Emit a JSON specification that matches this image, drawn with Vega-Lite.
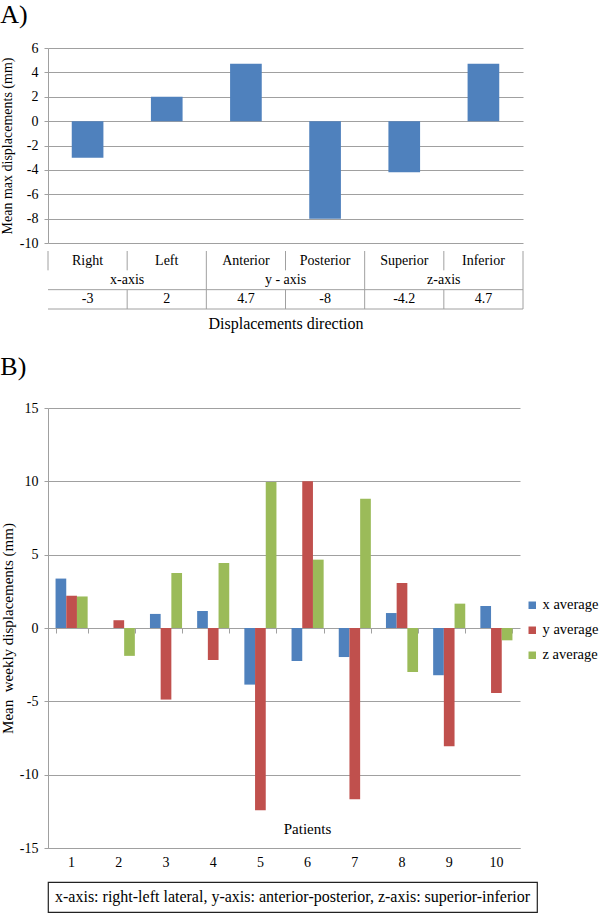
{
  "$schema": "https://vega.github.io/schema/vega-lite/v6.json",
  "padding": {"left": 0, "top": 2, "right": 0, "bottom": 0},
  "background": "white",
  "config": {
    "font": "Liberation Serif",
    "view": {"stroke": null},
    "locale": {"number": {"decimal": ".", "thousands": ",", "grouping": [3], "currency": ["$", ""], "minus": "-"}},
    "axis": {
      "labelFont": "Liberation Serif", "titleFont": "Liberation Serif",
      "labelColor": "black", "titleColor": "black", "titleFontWeight": "normal",
      "labelFontSize": 14, "titleFontSize": 14,
      "gridColor": "#a0a0a0", "domainColor": "#a0a0a0", "tickColor": "#a0a0a0"
    },
    "title": {"font": "Liberation Serif", "fontWeight": "normal", "fontSize": 26, "anchor": "start", "frame": "bounds", "color": "black", "baseline": "alphabetic"},
    "text": {"font": "Liberation Serif", "color": "black"}
  },
  "datasets": {
    "directions": [
      {"direction": "Right", "group": "x-axis", "value": -3},
      {"direction": "Left", "group": "x-axis", "value": 2},
      {"direction": "Anterior", "group": "y - axis", "value": 4.7},
      {"direction": "Posterior", "group": "y - axis", "value": -8},
      {"direction": "Superior", "group": "z-axis", "value": -4.2},
      {"direction": "Inferior", "group": "z-axis", "value": 4.7}
    ],
    "tableLines": [
      {"direction": "Right", "top": 0, "bottom": 1},
      {"direction": "Left", "top": 0, "bottom": 1},
      {"direction": "Left", "top": 2, "bottom": 3},
      {"direction": "Anterior", "top": 0, "bottom": 3},
      {"direction": "Posterior", "top": 0, "bottom": 1},
      {"direction": "Posterior", "top": 2, "bottom": 3},
      {"direction": "Superior", "top": 0, "bottom": 3},
      {"direction": "Inferior", "top": 0, "bottom": 1},
      {"direction": "Inferior", "top": 2, "bottom": 3}
    ],
    "weekly": [
      {"patient": 1, "series": "x average", "value": 3.37},
      {"patient": 1, "series": "y average", "value": 2.2},
      {"patient": 1, "series": "z average", "value": 2.15},
      {"patient": 2, "series": "x average", "value": 0},
      {"patient": 2, "series": "y average", "value": 0.53},
      {"patient": 2, "series": "z average", "value": -1.9},
      {"patient": 3, "series": "x average", "value": 0.96},
      {"patient": 3, "series": "y average", "value": -4.88},
      {"patient": 3, "series": "z average", "value": 3.75},
      {"patient": 4, "series": "x average", "value": 1.16},
      {"patient": 4, "series": "y average", "value": -2.18},
      {"patient": 4, "series": "z average", "value": 4.43},
      {"patient": 5, "series": "x average", "value": -3.86},
      {"patient": 5, "series": "y average", "value": -12.43},
      {"patient": 5, "series": "z average", "value": 9.95},
      {"patient": 6, "series": "x average", "value": -2.25},
      {"patient": 6, "series": "y average", "value": 10.0},
      {"patient": 6, "series": "z average", "value": 4.66},
      {"patient": 7, "series": "x average", "value": -1.98},
      {"patient": 7, "series": "y average", "value": -11.68},
      {"patient": 7, "series": "z average", "value": 8.82},
      {"patient": 8, "series": "x average", "value": 1.02},
      {"patient": 8, "series": "y average", "value": 3.07},
      {"patient": 8, "series": "z average", "value": -3.0},
      {"patient": 9, "series": "x average", "value": -3.22},
      {"patient": 9, "series": "y average", "value": -8.06},
      {"patient": 9, "series": "z average", "value": 1.66},
      {"patient": 10, "series": "x average", "value": 1.5},
      {"patient": 10, "series": "y average", "value": -4.43},
      {"patient": 10, "series": "z average", "value": -0.84}
    ]
  },
  "spacing": 23,
  "vconcat": [
    {
      "spacing": 0,
      "vconcat": [
        {
          "width": 475,
          "height": 195,
          "title": {"text": "A)", "offset": 13},
          "data": {"name": "directions"},
          "mark": {"type": "bar", "color": "#4F81BD"},
          "encoding": {
            "x": {"field": "direction", "type": "nominal", "sort": null,
                  "scale": {"domain": ["Right", "Left", "Anterior", "Posterior", "Superior", "Inferior"], "paddingInner": 0.6, "paddingOuter": 0.3},
                  "axis": null},
            "y": {"field": "value", "type": "quantitative",
                  "scale": {"domain": [-10, 6], "nice": false},
                  "axis": {"values": [-10, -8, -6, -4, -2, 0, 2, 4, 6], "title": "Mean max displacements (mm)",
                           "titlePadding": 5, "tickSize": 4, "labelPadding": 6, "grid": true}}
          }
        },
        {
          "width": 475,
          "height": 58,
          "layer": [
            {
              "data": {"name": "directions"},
              "mark": {"type": "text", "fontSize": 14},
              "encoding": {
                "x": {"field": "direction", "type": "nominal", "sort": null,
                      "scale": {"domain": ["Right", "Left", "Anterior", "Posterior", "Superior", "Inferior"], "paddingInner": 0, "paddingOuter": 0},
                      "axis": {"title": "Displacements direction", "labels": false, "ticks": false, "domain": false, "titleFontSize": 16, "titlePadding": 6}},
                "y": {"datum": 0.5, "type": "quantitative", "scale": {"domain": [0, 3], "reverse": true, "nice": false, "zero": false}, "axis": null},
                "text": {"field": "direction"}
              }
            },
            {
              "data": {"name": "directions"},
              "transform": [{"filter": {"field": "direction", "oneOf": ["Right", "Anterior", "Superior"]}}],
              "mark": {"type": "text", "fontSize": 14},
              "encoding": {
                "x": {"field": "direction", "type": "nominal", "bandPosition": 1,
                      "axis": {"title": "Displacements direction", "labels": false, "ticks": false, "domain": false, "titleFontSize": 16, "titlePadding": 6}},
                "y": {"datum": 1.5, "type": "quantitative"},
                "text": {"field": "group"}
              }
            },
            {
              "data": {"name": "directions"},
              "mark": {"type": "text", "fontSize": 14},
              "encoding": {
                "x": {"field": "direction", "type": "nominal",
                      "axis": {"title": "Displacements direction", "labels": false, "ticks": false, "domain": false, "titleFontSize": 16, "titlePadding": 6}},
                "y": {"datum": 2.5, "type": "quantitative"},
                "text": {"field": "value", "type": "quantitative"}
              }
            },
            {
              "data": {"name": "tableLines"},
              "mark": {"type": "rule", "color": "#a0a0a0", "strokeWidth": 1},
              "encoding": {
                "x": {"field": "direction", "type": "nominal", "bandPosition": 0,
                      "axis": {"title": "Displacements direction", "labels": false, "ticks": false, "domain": false, "titleFontSize": 16, "titlePadding": 6}},
                "y": {"field": "top", "type": "quantitative"},
                "y2": {"field": "bottom"}
              }
            },
            {
              "data": {"name": "directions"},
              "transform": [{"filter": {"field": "direction", "equal": "Inferior"}}],
              "mark": {"type": "rule", "color": "#a0a0a0", "strokeWidth": 1},
              "encoding": {
                "x": {"field": "direction", "type": "nominal", "bandPosition": 1,
                      "axis": {"title": "Displacements direction", "labels": false, "ticks": false, "domain": false, "titleFontSize": 16, "titlePadding": 6}},
                "y": {"datum": 0, "type": "quantitative"},
                "y2": {"datum": 3}
              }
            },
            {
              "data": {"values": [{"line": 2}, {"line": 3}]},
              "mark": {"type": "rule", "color": "#a0a0a0", "strokeWidth": 1},
              "encoding": {
                "y": {"field": "line", "type": "quantitative"}
              }
            }
          ]
        }
      ]
    },
    {
      "spacing": 12,
      "vconcat": [
        {
          "width": 472,
          "height": 440,
          "title": {"text": "B)", "offset": 21},
          "data": {"name": "weekly"},
          "resolve": {"axis": {"x": "independent"}},
          "layer": [
            {
              "mark": {"type": "bar"},
              "encoding": {
                "x": {"field": "patient", "type": "ordinal",
                      "scale": {"paddingInner": 0.32, "paddingOuter": 0.16},
                      "axis": {"title": "Patients", "labelAngle": 0, "ticks": false, "tickSize": 0, "labelPadding": 7,
                               "titleFontSize": 15, "titleX": 259, "titleY": -20, "titleBaseline": "middle"}},
                "xOffset": {"field": "series", "type": "nominal", "sort": ["x average", "y average", "z average"]},
                "y": {"field": "value", "type": "quantitative",
                      "scale": {"domain": [-15, 15], "nice": false},
                      "axis": {"values": [-15, -10, -5, 0, 5, 10, 15], "title": "Mean\u00a0 weekly displacements (mm)",
                               "titleFontSize": 15, "titlePadding": 4, "tickSize": 4, "labelPadding": 6, "grid": true}},
                "color": {"field": "series", "type": "nominal",
                          "scale": {"domain": ["x average", "y average", "z average"], "range": ["#4F81BD", "#C0504D", "#9BBB59"]},
                          "legend": {"title": null, "orient": "none", "legendX": 477, "legendY": 550,
                                     "symbolType": "square", "symbolSize": 56, "symbolStrokeWidth": 0,
                                     "labelFont": "Liberation Serif", "labelFontSize": 14.5, "labelColor": "black",
                                     "rowPadding": 10, "labelOffset": 3}}
              }
            },
            {
              "mark": {"type": "text", "opacity": 0},
              "encoding": {
                "x": {"field": "patient", "type": "ordinal",
                      "axis": {"orient": "bottom", "offset": -220, "labels": false, "domain": false, "ticks": true,
                               "tickBand": "extent", "tickSize": 5, "title": null, "grid": false}},
                "y": {"datum": 0, "type": "quantitative"},
                "text": {"value": ""}
              }
            }
          ]
        },
        {
          "width": 489,
          "height": 30,
          "view": {"stroke": "#222222", "strokeWidth": 1.2},
          "data": {"values": [{"caption": "x-axis: right-left lateral, y-axis: anterior-posterior, z-axis: superior-inferior"}]},
          "mark": {"type": "text", "fontSize": 16},
          "encoding": {"text": {"field": "caption"}}
        }
      ]
    }
  ]
}
